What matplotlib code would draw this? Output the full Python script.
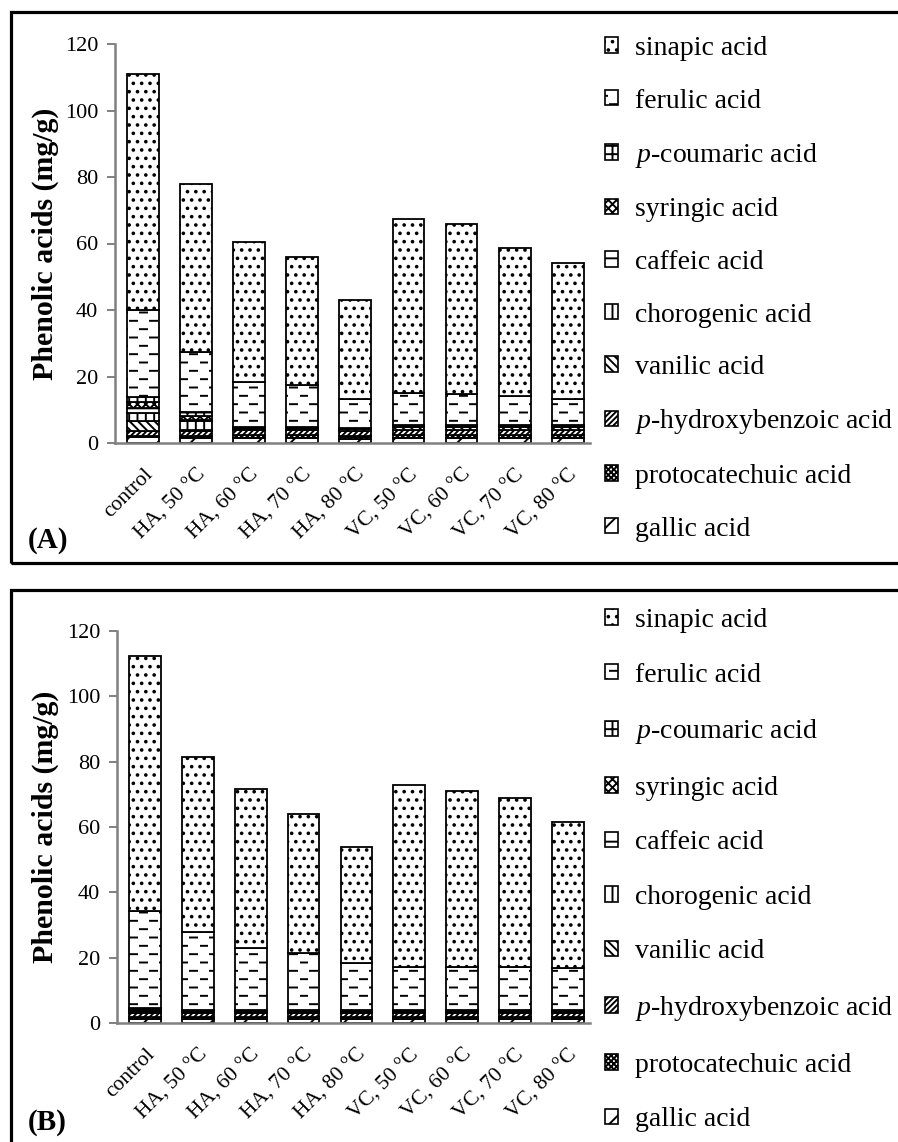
import warnings
import numpy as np
import matplotlib
matplotlib.use("Agg")
import matplotlib.pyplot as plt
import matplotlib.hatch as mhatch
from matplotlib.path import Path
from matplotlib.patches import Patch, Rectangle

warnings.filterwarnings("ignore")

samples = ["control", "HA, 50 °C", "HA, 60 °C", "HA, 70 °C", "HA, 80 °C",
           "VC, 50 °C", "VC, 60 °C", "VC, 70 °C", "VC, 80 °C"]
acids = ["gallic acid", "protocatechuic acid", "$\\mathit{p}$-hydroxybenzoic acid",
         "vanilic acid", "chorogenic acid", "caffeic acid", "syringic acid",
         "$\\mathit{p}$-coumaric acid", "ferulic acid", "sinapic acid"]

# panel A (mg/g)
gallic_A = [1.7, 1.5, 1.5, 1.5, 1.3, 1.5, 1.5, 1.5, 1.5]
proto_A = [0.3, 0.5, 0.8, 0.8, 0.8, 1.0, 1.0, 1.0, 1.0]
phyd_A = [1.5, 1.5, 1.5, 1.5, 1.5, 1.5, 1.5, 1.5, 1.5]
vanilic_A = [3.2, 0.5, 0.5, 0.5, 0.5, 0.8, 0.8, 0.8, 0.8]
chloro_A = [2.2, 2.5, 0.2, 0.2, 0.2, 0.2, 0.2, 0.2, 0.2]
caffeic_A = [1.5, 0.5, 0.2, 0.2, 0.2, 0.2, 0.2, 0.2, 0.2]
syringic_A = [1.8, 1.0, 0.2, 0.1, 0.1, 0.2, 0.2, 0.2, 0.2]
pcoum_A = [1.7, 1.4, 0.0, 0.0, 0.0, 0.0, 0.0, 0.0, 0.0]
ferulic_A = [26.1, 18.1, 13.4, 12.7, 8.5, 9.5, 9.3, 8.8, 7.9]
sinapic_A = [71.0, 50.5, 42.2, 38.5, 29.9, 52.6, 51.3, 44.3, 40.7]

# panel B (mg/g)
gallic_B = [1.2, 1.2, 1.2, 1.2, 1.2, 1.2, 1.2, 1.2, 1.2]
proto_B = [0.6, 0.6, 0.6, 0.6, 0.6, 0.6, 0.6, 0.6, 0.6]
phyd_B = [1.2, 1.2, 1.2, 1.2, 1.2, 1.2, 1.2, 1.2, 1.2]
vanilic_B = [0.5, 0.4, 0.4, 0.4, 0.4, 0.4, 0.4, 0.4, 0.4]
chloro_B = [0.3, 0.2, 0.2, 0.2, 0.2, 0.2, 0.2, 0.2, 0.2]
caffeic_B = [0.3, 0.2, 0.2, 0.2, 0.2, 0.2, 0.2, 0.2, 0.2]
syringic_B = [0.2, 0.1, 0.1, 0.1, 0.1, 0.1, 0.1, 0.1, 0.1]
pcoum_B = [0.2, 0.1, 0.1, 0.1, 0.1, 0.1, 0.1, 0.1, 0.1]
ferulic_B = [29.7, 23.9, 19.0, 17.3, 14.4, 13.2, 13.2, 13.2, 12.8]
sinapic_B = [78.3, 53.6, 48.5, 42.7, 35.6, 55.8, 53.8, 51.8, 44.7]


# dashed hatch for ferulic acid
class DashHatch(mhatch.HatchPatternBase):
    def __init__(self, hatch, density):
        self.num_rows = int(hatch.count('_') * density)
        self.per_row = 5
        self.num_vertices = self.num_rows * self.per_row * 2

    def set_vertices_and_codes(self, vertices, codes):
        k = 0
        for i in range(self.num_rows):
            y = (i + 0.5) / self.num_rows
            off = 0.5 / self.per_row if i % 2 else 0.0
            for j in range(self.per_row):
                x0 = j / self.per_row + off
                vertices[k] = (x0, y)
                vertices[k + 1] = (x0 + 0.07, y)
                codes[k] = Path.MOVETO
                codes[k + 1] = Path.LINETO
                k += 2


mhatch._hatch_types.append(DashHatch)

hatches = ["/", "xxxxxx", "//////", "\\\\\\\\", "||", "-", "xxxx", "++", "__", ".."]

plt.rcParams['font.family'] = ['Liberation Serif', 'DejaVu Serif']
plt.rcParams['mathtext.fontset'] = 'custom'
plt.rcParams['mathtext.rm'] = 'Liberation Serif'
plt.rcParams['mathtext.it'] = 'Liberation Serif:italic'
plt.rcParams['hatch.linewidth'] = 1.4

fig = plt.figure(figsize=(8.98, 11.42), dpi=100)
W, H = 898, 1142


def draw_panel(rect, data, label, label_y, leg_top, spacing):
    ax = fig.add_axes(rect)
    x = np.arange(len(samples))
    bottom = np.zeros(len(samples))
    for vals, h in zip(data, hatches):
        ax.bar(x, vals, 0.6, bottom=bottom, color="white", edgecolor="black",
               hatch=h, linewidth=1.3)
        bottom += np.array(vals)
    ax.set_xlim(-0.53, 8.42)
    ax.set_ylim(0, 120)
    ax.set_yticks(range(0, 121, 20))
    ax.set_xticks(x)
    ax.set_xticklabels(samples, rotation=45, ha="right", rotation_mode="anchor",
                       fontsize=15.5)
    ax.tick_params(axis="x", length=0, pad=16)
    ax.tick_params(axis="y", labelsize=16, color="#808080", length=6, width=1.4, pad=6)
    for s in ["top", "right"]:
        ax.spines[s].set_visible(False)
    for s in ["left", "bottom"]:
        ax.spines[s].set_color("#808080")
        ax.spines[s].set_linewidth(1.8)
    fig.text(45 / W, rect[1] + rect[3] * 0.5, "Phenolic acids (mg/g)", fontsize=21.5,
             fontweight="bold", rotation=90, ha="center", va="center")

    handles = [Patch(facecolor="white", edgecolor="black", hatch=h, linewidth=1.2)
               for h in hatches]
    fig.legend(handles[::-1], acids[::-1], loc="upper left",
               bbox_to_anchor=(605 / W, 1 - leg_top / H), frameon=False,
               fontsize=20, handlelength=0.48, handleheight=0.48,
               handletextpad=0.6, labelspacing=spacing, borderpad=0,
               borderaxespad=0)
    fig.text(28 / W, 1 - label_y / H, label, fontsize=21, fontweight="bold",
             va="center", ha="left")
    return ax


data_A = [gallic_A, proto_A, phyd_A, vanilic_A, chloro_A, caffeic_A,
          syringic_A, pcoum_A, ferulic_A, sinapic_A]
data_B = [gallic_B, proto_B, phyd_B, vanilic_B, chloro_B, caffeic_B,
          syringic_B, pcoum_B, ferulic_B, sinapic_B]

draw_panel([115 / W, 1 - 443 / H, 475 / W, 399 / H], data_A, "(A)", 541, 36, 0.99)
draw_panel([117 / W, 1 - 1023 / H, 473 / W, 392 / H], data_B, "(B)", 1123, 608, 1.065)

# panel frames
fig.patches.append(Rectangle((11 / W, 1 - 563 / H), 1.2, 551 / H, transform=fig.transFigure,
                             fill=False, edgecolor="black", linewidth=2.3, clip_on=False))
fig.patches.append(Rectangle((11 / W, -0.05), 1.2, (1142 - 590) / H + 0.05,
                             transform=fig.transFigure, fill=False, edgecolor="black",
                             linewidth=2.3, clip_on=False))

fig.savefig("out.png", dpi=100)
